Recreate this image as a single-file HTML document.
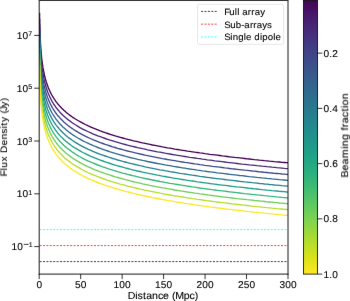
<!DOCTYPE html>
<html><head><meta charset="utf-8"><style>
html,body{margin:0;padding:0;background:#fff;width:350px;height:301px;overflow:hidden;}
svg{display:block;font-family:"Liberation Sans", sans-serif;will-change:transform;text-rendering:geometricPrecision;}
text{stroke:#000;stroke-width:0.1px;}
</style></head><body>
<svg width="350" height="301" viewBox="0 0 350 301" font-family='"Liberation Sans", sans-serif' fill="#000">
<defs>
<filter id="sb" x="0" y="0" width="350" height="301" filterUnits="userSpaceOnUse" color-interpolation-filters="sRGB"><feConvolveMatrix order="3" kernelMatrix="0.005 0.035 0.005 0.035 0.84 0.035 0.005 0.035 0.005" divisor="1" edgeMode="duplicate"/></filter>
<linearGradient id="vir" gradientUnits="userSpaceOnUse" x1="0" y1="-2.1" x2="0" y2="274.1"><stop offset="0.0000" stop-color="#440154"/><stop offset="0.0625" stop-color="#48186a"/><stop offset="0.1250" stop-color="#472d7b"/><stop offset="0.1875" stop-color="#424086"/><stop offset="0.2500" stop-color="#3b528b"/><stop offset="0.3125" stop-color="#33638d"/><stop offset="0.3750" stop-color="#2c728e"/><stop offset="0.4375" stop-color="#26828e"/><stop offset="0.5000" stop-color="#21918c"/><stop offset="0.5625" stop-color="#1fa088"/><stop offset="0.6250" stop-color="#28ae80"/><stop offset="0.6875" stop-color="#3fbc73"/><stop offset="0.7500" stop-color="#5ec962"/><stop offset="0.8125" stop-color="#84d44b"/><stop offset="0.8750" stop-color="#addc30"/><stop offset="0.9375" stop-color="#d8e219"/><stop offset="1.0000" stop-color="#fde725"/></linearGradient>
<clipPath id="axclip"><rect x="39.2" y="0.4" width="248.8" height="273.70000000000005"/></clipPath>
</defs>
<g filter="url(#sb)">
<rect width="350" height="301" fill="#fff"/>
<g clip-path="url(#axclip)">
<line x1="39.2" y1="229.6" x2="288.0" y2="229.6" stroke="#00ffff" stroke-width="0.75" stroke-dasharray="2.0 1.4" stroke-dashoffset="-0.4"/>
<line x1="39.2" y1="245.6" x2="288.0" y2="245.6" stroke="#ff0000" stroke-width="0.75" stroke-dasharray="2.0 1.4" stroke-dashoffset="-0.4"/>
<line x1="39.2" y1="261.6" x2="288.0" y2="261.6" stroke="#000000" stroke-width="0.75" stroke-dasharray="2.0 1.4" stroke-dashoffset="-0.4"/>
<path d="M39.5,12.9 L39.6,13.8 L39.6,14.7 L39.6,15.6 L39.6,16.5 L39.6,17.4 L39.6,18.3 L39.7,19.2 L39.7,20.1 L39.7,21.0 L39.7,21.9 L39.7,22.7 L39.7,23.6 L39.8,24.5 L39.8,25.4 L39.8,26.3 L39.8,27.2 L39.9,28.1 L39.9,29.0 L39.9,29.9 L40.0,30.8 L40.0,31.7 L40.0,32.6 L40.0,33.5 L40.1,34.3 L40.1,35.2 L40.1,36.1 L40.2,37.0 L40.2,37.9 L40.3,38.8 L40.3,39.7 L40.4,40.6 L40.4,41.5 L40.4,42.4 L40.5,43.3 L40.6,44.2 L40.6,45.1 L40.7,45.9 L40.7,46.8 L40.8,47.7 L40.8,48.6 L40.9,49.5 L41.0,50.4 L41.0,51.3 L41.1,52.2 L41.2,53.1 L41.3,54.0 L41.4,54.9 L41.5,55.8 L41.5,56.7 L41.6,57.6 L41.7,58.4 L41.8,59.3 L41.9,60.2 L42.0,61.1 L42.2,62.0 L42.3,62.9 L42.4,63.8 L42.5,64.7 L42.7,65.6 L42.8,66.5 L42.9,67.4 L43.1,68.3 L43.3,69.2 L43.4,70.0 L43.6,70.9 L43.8,71.8 L43.9,72.7 L44.1,73.6 L44.3,74.5 L44.5,75.4 L44.7,76.3 L45.0,77.2 L45.2,78.1 L45.4,79.0 L45.7,79.9 L45.9,80.8 L46.2,81.7 L46.5,82.5 L46.8,83.4 L47.1,84.3 L47.4,85.2 L47.7,86.1 L48.1,87.0 L48.4,87.9 L48.8,88.8 L49.2,89.7 L49.6,90.6 L50.0,91.5 L50.4,92.4 L50.9,93.3 L51.4,94.1 L51.8,95.0 L52.3,95.9 L52.9,96.8 L53.4,97.7 L54.0,98.6 L54.6,99.5 L55.2,100.4 L55.8,101.3 L56.5,102.2 L57.2,103.1 L57.9,104.0 L58.7,104.9 L59.4,105.7 L60.2,106.6 L61.1,107.5 L62.0,108.4 L62.9,109.3 L63.8,110.2 L64.8,111.1 L65.8,112.0 L66.9,112.9 L68.0,113.8 L69.2,114.7 L70.4,115.6 L71.6,116.5 L72.9,117.4 L75.4,119.0 L77.9,120.5 L80.4,121.9 L82.8,123.2 L85.3,124.5 L87.8,125.7 L90.3,126.8 L92.8,127.9 L95.3,128.9 L97.8,129.9 L100.3,130.9 L102.8,131.8 L105.2,132.7 L107.7,133.5 L110.2,134.3 L112.7,135.1 L115.2,135.9 L117.7,136.6 L120.2,137.3 L122.7,138.0 L125.1,138.7 L127.6,139.3 L130.1,139.9 L132.6,140.6 L135.1,141.2 L137.6,141.7 L140.1,142.3 L142.6,142.9 L145.0,143.4 L147.5,143.9 L150.0,144.4 L152.5,145.0 L155.0,145.4 L157.5,145.9 L160.0,146.4 L162.5,146.9 L165.0,147.3 L167.4,147.8 L169.9,148.2 L172.4,148.6 L174.9,149.1 L177.4,149.5 L179.9,149.9 L182.4,150.3 L184.9,150.7 L187.3,151.1 L189.8,151.4 L192.3,151.8 L194.8,152.2 L197.3,152.5 L199.8,152.9 L202.3,153.2 L204.8,153.6 L207.2,153.9 L209.7,154.3 L212.2,154.6 L214.7,154.9 L217.2,155.2 L219.7,155.5 L222.2,155.9 L224.7,156.2 L227.2,156.5 L229.6,156.8 L232.1,157.1 L234.6,157.4 L237.1,157.6 L239.6,157.9 L242.1,158.2 L244.6,158.5 L247.1,158.8 L249.5,159.0 L252.0,159.3 L254.5,159.6 L257.0,159.8 L259.5,160.1 L262.0,160.3 L264.5,160.6 L267.0,160.8 L269.4,161.1 L271.9,161.3 L274.4,161.6 L276.9,161.8 L279.4,162.0 L281.9,162.3 L284.4,162.5 L286.9,162.7 L288.0,162.8" stroke="#440154" stroke-width="1.35" fill="none"/>
<path d="M39.5,18.8 L39.6,19.7 L39.6,20.6 L39.6,21.4 L39.6,22.3 L39.6,23.2 L39.6,24.1 L39.7,25.0 L39.7,25.9 L39.7,26.8 L39.7,27.7 L39.7,28.6 L39.7,29.5 L39.8,30.4 L39.8,31.3 L39.8,32.2 L39.8,33.0 L39.9,33.9 L39.9,34.8 L39.9,35.7 L40.0,36.6 L40.0,37.5 L40.0,38.4 L40.0,39.3 L40.1,40.2 L40.1,41.1 L40.1,42.0 L40.2,42.9 L40.2,43.8 L40.3,44.7 L40.3,45.5 L40.4,46.4 L40.4,47.3 L40.4,48.2 L40.5,49.1 L40.6,50.0 L40.6,50.9 L40.7,51.8 L40.7,52.7 L40.8,53.6 L40.8,54.5 L40.9,55.4 L41.0,56.3 L41.0,57.1 L41.1,58.0 L41.2,58.9 L41.3,59.8 L41.4,60.7 L41.5,61.6 L41.5,62.5 L41.6,63.4 L41.7,64.3 L41.8,65.2 L41.9,66.1 L42.0,67.0 L42.2,67.9 L42.3,68.8 L42.4,69.6 L42.5,70.5 L42.7,71.4 L42.8,72.3 L42.9,73.2 L43.1,74.1 L43.3,75.0 L43.4,75.9 L43.6,76.8 L43.8,77.7 L43.9,78.6 L44.1,79.5 L44.3,80.4 L44.5,81.2 L44.7,82.1 L45.0,83.0 L45.2,83.9 L45.4,84.8 L45.7,85.7 L45.9,86.6 L46.2,87.5 L46.5,88.4 L46.8,89.3 L47.1,90.2 L47.4,91.1 L47.7,92.0 L48.1,92.9 L48.4,93.7 L48.8,94.6 L49.2,95.5 L49.6,96.4 L50.0,97.3 L50.4,98.2 L50.9,99.1 L51.4,100.0 L51.8,100.9 L52.3,101.8 L52.9,102.7 L53.4,103.6 L54.0,104.5 L54.6,105.3 L55.2,106.2 L55.8,107.1 L56.5,108.0 L57.2,108.9 L57.9,109.8 L58.7,110.7 L59.4,111.6 L60.2,112.5 L61.1,113.4 L62.0,114.3 L62.9,115.2 L63.8,116.1 L64.8,116.9 L65.8,117.8 L66.9,118.7 L68.0,119.6 L69.2,120.5 L70.4,121.4 L71.6,122.3 L72.9,123.2 L75.4,124.8 L77.9,126.3 L80.4,127.8 L82.8,129.1 L85.3,130.3 L87.8,131.5 L90.3,132.7 L92.8,133.8 L95.3,134.8 L97.8,135.8 L100.3,136.7 L102.8,137.6 L105.2,138.5 L107.7,139.4 L110.2,140.2 L112.7,140.9 L115.2,141.7 L117.7,142.4 L120.2,143.1 L122.7,143.8 L125.1,144.5 L127.6,145.2 L130.1,145.8 L132.6,146.4 L135.1,147.0 L137.6,147.6 L140.1,148.1 L142.6,148.7 L145.0,149.2 L147.5,149.8 L150.0,150.3 L152.5,150.8 L155.0,151.3 L157.5,151.8 L160.0,152.2 L162.5,152.7 L165.0,153.2 L167.4,153.6 L169.9,154.0 L172.4,154.5 L174.9,154.9 L177.4,155.3 L179.9,155.7 L182.4,156.1 L184.9,156.5 L187.3,156.9 L189.8,157.3 L192.3,157.6 L194.8,158.0 L197.3,158.4 L199.8,158.7 L202.3,159.1 L204.8,159.4 L207.2,159.8 L209.7,160.1 L212.2,160.4 L214.7,160.8 L217.2,161.1 L219.7,161.4 L222.2,161.7 L224.7,162.0 L227.2,162.3 L229.6,162.6 L232.1,162.9 L234.6,163.2 L237.1,163.5 L239.6,163.8 L242.1,164.1 L244.6,164.3 L247.1,164.6 L249.5,164.9 L252.0,165.1 L254.5,165.4 L257.0,165.7 L259.5,165.9 L262.0,166.2 L264.5,166.4 L267.0,166.7 L269.4,166.9 L271.9,167.2 L274.4,167.4 L276.9,167.7 L279.4,167.9 L281.9,168.1 L284.4,168.4 L286.9,168.6 L288.0,168.7" stroke="#482878" stroke-width="1.35" fill="none"/>
<path d="M39.5,24.6 L39.6,25.5 L39.6,26.4 L39.6,27.3 L39.6,28.2 L39.6,29.1 L39.6,30.0 L39.7,30.9 L39.7,31.8 L39.7,32.6 L39.7,33.5 L39.7,34.4 L39.7,35.3 L39.8,36.2 L39.8,37.1 L39.8,38.0 L39.8,38.9 L39.9,39.8 L39.9,40.7 L39.9,41.6 L40.0,42.5 L40.0,43.4 L40.0,44.2 L40.0,45.1 L40.1,46.0 L40.1,46.9 L40.1,47.8 L40.2,48.7 L40.2,49.6 L40.3,50.5 L40.3,51.4 L40.4,52.3 L40.4,53.2 L40.4,54.1 L40.5,55.0 L40.6,55.9 L40.6,56.7 L40.7,57.6 L40.7,58.5 L40.8,59.4 L40.8,60.3 L40.9,61.2 L41.0,62.1 L41.0,63.0 L41.1,63.9 L41.2,64.8 L41.3,65.7 L41.4,66.6 L41.5,67.5 L41.5,68.3 L41.6,69.2 L41.7,70.1 L41.8,71.0 L41.9,71.9 L42.0,72.8 L42.2,73.7 L42.3,74.6 L42.4,75.5 L42.5,76.4 L42.7,77.3 L42.8,78.2 L42.9,79.1 L43.1,80.0 L43.3,80.8 L43.4,81.7 L43.6,82.6 L43.8,83.5 L43.9,84.4 L44.1,85.3 L44.3,86.2 L44.5,87.1 L44.7,88.0 L45.0,88.9 L45.2,89.8 L45.4,90.7 L45.7,91.6 L45.9,92.4 L46.2,93.3 L46.5,94.2 L46.8,95.1 L47.1,96.0 L47.4,96.9 L47.7,97.8 L48.1,98.7 L48.4,99.6 L48.8,100.5 L49.2,101.4 L49.6,102.3 L50.0,103.2 L50.4,104.1 L50.9,104.9 L51.4,105.8 L51.8,106.7 L52.3,107.6 L52.9,108.5 L53.4,109.4 L54.0,110.3 L54.6,111.2 L55.2,112.1 L55.8,113.0 L56.5,113.9 L57.2,114.8 L57.9,115.7 L58.7,116.5 L59.4,117.4 L60.2,118.3 L61.1,119.2 L62.0,120.1 L62.9,121.0 L63.8,121.9 L64.8,122.8 L65.8,123.7 L66.9,124.6 L68.0,125.5 L69.2,126.4 L70.4,127.3 L71.6,128.1 L72.9,129.0 L75.4,130.7 L77.9,132.2 L80.4,133.6 L82.8,134.9 L85.3,136.2 L87.8,137.4 L90.3,138.5 L92.8,139.6 L95.3,140.6 L97.8,141.6 L100.3,142.6 L102.8,143.5 L105.2,144.4 L107.7,145.2 L110.2,146.0 L112.7,146.8 L115.2,147.5 L117.7,148.3 L120.2,149.0 L122.7,149.7 L125.1,150.3 L127.6,151.0 L130.1,151.6 L132.6,152.2 L135.1,152.8 L137.6,153.4 L140.1,154.0 L142.6,154.5 L145.0,155.1 L147.5,155.6 L150.0,156.1 L152.5,156.6 L155.0,157.1 L157.5,157.6 L160.0,158.1 L162.5,158.6 L165.0,159.0 L167.4,159.5 L169.9,159.9 L172.4,160.3 L174.9,160.7 L177.4,161.2 L179.9,161.6 L182.4,162.0 L184.9,162.4 L187.3,162.7 L189.8,163.1 L192.3,163.5 L194.8,163.9 L197.3,164.2 L199.8,164.6 L202.3,164.9 L204.8,165.3 L207.2,165.6 L209.7,165.9 L212.2,166.3 L214.7,166.6 L217.2,166.9 L219.7,167.2 L222.2,167.5 L224.7,167.9 L227.2,168.2 L229.6,168.5 L232.1,168.8 L234.6,169.0 L237.1,169.3 L239.6,169.6 L242.1,169.9 L244.6,170.2 L247.1,170.4 L249.5,170.7 L252.0,171.0 L254.5,171.2 L257.0,171.5 L259.5,171.8 L262.0,172.0 L264.5,172.3 L267.0,172.5 L269.4,172.8 L271.9,173.0 L274.4,173.3 L276.9,173.5 L279.4,173.7 L281.9,174.0 L284.4,174.2 L286.9,174.4 L288.0,174.5" stroke="#3e4989" stroke-width="1.35" fill="none"/>
<path d="M39.5,30.5 L39.6,31.4 L39.6,32.2 L39.6,33.1 L39.6,34.0 L39.6,34.9 L39.6,35.8 L39.7,36.7 L39.7,37.6 L39.7,38.5 L39.7,39.4 L39.7,40.3 L39.7,41.2 L39.8,42.1 L39.8,43.0 L39.8,43.8 L39.8,44.7 L39.9,45.6 L39.9,46.5 L39.9,47.4 L40.0,48.3 L40.0,49.2 L40.0,50.1 L40.0,51.0 L40.1,51.9 L40.1,52.8 L40.1,53.7 L40.2,54.6 L40.2,55.4 L40.3,56.3 L40.3,57.2 L40.4,58.1 L40.4,59.0 L40.4,59.9 L40.5,60.8 L40.6,61.7 L40.6,62.6 L40.7,63.5 L40.7,64.4 L40.8,65.3 L40.8,66.2 L40.9,67.1 L41.0,67.9 L41.0,68.8 L41.1,69.7 L41.2,70.6 L41.3,71.5 L41.4,72.4 L41.5,73.3 L41.5,74.2 L41.6,75.1 L41.7,76.0 L41.8,76.9 L41.9,77.8 L42.0,78.7 L42.2,79.5 L42.3,80.4 L42.4,81.3 L42.5,82.2 L42.7,83.1 L42.8,84.0 L42.9,84.9 L43.1,85.8 L43.3,86.7 L43.4,87.6 L43.6,88.5 L43.8,89.4 L43.9,90.3 L44.1,91.2 L44.3,92.0 L44.5,92.9 L44.7,93.8 L45.0,94.7 L45.2,95.6 L45.4,96.5 L45.7,97.4 L45.9,98.3 L46.2,99.2 L46.5,100.1 L46.8,101.0 L47.1,101.9 L47.4,102.8 L47.7,103.6 L48.1,104.5 L48.4,105.4 L48.8,106.3 L49.2,107.2 L49.6,108.1 L50.0,109.0 L50.4,109.9 L50.9,110.8 L51.4,111.7 L51.8,112.6 L52.3,113.5 L52.9,114.4 L53.4,115.2 L54.0,116.1 L54.6,117.0 L55.2,117.9 L55.8,118.8 L56.5,119.7 L57.2,120.6 L57.9,121.5 L58.7,122.4 L59.4,123.3 L60.2,124.2 L61.1,125.1 L62.0,126.0 L62.9,126.9 L63.8,127.7 L64.8,128.6 L65.8,129.5 L66.9,130.4 L68.0,131.3 L69.2,132.2 L70.4,133.1 L71.6,134.0 L72.9,134.9 L75.4,136.5 L77.9,138.0 L80.4,139.4 L82.8,140.8 L85.3,142.0 L87.8,143.2 L90.3,144.4 L92.8,145.4 L95.3,146.5 L97.8,147.5 L100.3,148.4 L102.8,149.3 L105.2,150.2 L107.7,151.0 L110.2,151.9 L112.7,152.6 L115.2,153.4 L117.7,154.1 L120.2,154.8 L122.7,155.5 L125.1,156.2 L127.6,156.8 L130.1,157.5 L132.6,158.1 L135.1,158.7 L137.6,159.3 L140.1,159.8 L142.6,160.4 L145.0,160.9 L147.5,161.5 L150.0,162.0 L152.5,162.5 L155.0,163.0 L157.5,163.5 L160.0,163.9 L162.5,164.4 L165.0,164.9 L167.4,165.3 L169.9,165.7 L172.4,166.2 L174.9,166.6 L177.4,167.0 L179.9,167.4 L182.4,167.8 L184.9,168.2 L187.3,168.6 L189.8,169.0 L192.3,169.3 L194.8,169.7 L197.3,170.1 L199.8,170.4 L202.3,170.8 L204.8,171.1 L207.2,171.5 L209.7,171.8 L212.2,172.1 L214.7,172.4 L217.2,172.8 L219.7,173.1 L222.2,173.4 L224.7,173.7 L227.2,174.0 L229.6,174.3 L232.1,174.6 L234.6,174.9 L237.1,175.2 L239.6,175.5 L242.1,175.7 L244.6,176.0 L247.1,176.3 L249.5,176.6 L252.0,176.8 L254.5,177.1 L257.0,177.4 L259.5,177.6 L262.0,177.9 L264.5,178.1 L267.0,178.4 L269.4,178.6 L271.9,178.9 L274.4,179.1 L276.9,179.3 L279.4,179.6 L281.9,179.8 L284.4,180.0 L286.9,180.3 L288.0,180.4" stroke="#31688e" stroke-width="1.35" fill="none"/>
<path d="M39.5,36.3 L39.6,37.2 L39.6,38.1 L39.6,39.0 L39.6,39.9 L39.6,40.8 L39.6,41.7 L39.7,42.6 L39.7,43.4 L39.7,44.3 L39.7,45.2 L39.7,46.1 L39.7,47.0 L39.8,47.9 L39.8,48.8 L39.8,49.7 L39.8,50.6 L39.9,51.5 L39.9,52.4 L39.9,53.3 L40.0,54.2 L40.0,55.0 L40.0,55.9 L40.0,56.8 L40.1,57.7 L40.1,58.6 L40.1,59.5 L40.2,60.4 L40.2,61.3 L40.3,62.2 L40.3,63.1 L40.4,64.0 L40.4,64.9 L40.4,65.8 L40.5,66.6 L40.6,67.5 L40.6,68.4 L40.7,69.3 L40.7,70.2 L40.8,71.1 L40.8,72.0 L40.9,72.9 L41.0,73.8 L41.0,74.7 L41.1,75.6 L41.2,76.5 L41.3,77.4 L41.4,78.3 L41.5,79.1 L41.5,80.0 L41.6,80.9 L41.7,81.8 L41.8,82.7 L41.9,83.6 L42.0,84.5 L42.2,85.4 L42.3,86.3 L42.4,87.2 L42.5,88.1 L42.7,89.0 L42.8,89.9 L42.9,90.7 L43.1,91.6 L43.3,92.5 L43.4,93.4 L43.6,94.3 L43.8,95.2 L43.9,96.1 L44.1,97.0 L44.3,97.9 L44.5,98.8 L44.7,99.7 L45.0,100.6 L45.2,101.5 L45.4,102.4 L45.7,103.2 L45.9,104.1 L46.2,105.0 L46.5,105.9 L46.8,106.8 L47.1,107.7 L47.4,108.6 L47.7,109.5 L48.1,110.4 L48.4,111.3 L48.8,112.2 L49.2,113.1 L49.6,114.0 L50.0,114.8 L50.4,115.7 L50.9,116.6 L51.4,117.5 L51.8,118.4 L52.3,119.3 L52.9,120.2 L53.4,121.1 L54.0,122.0 L54.6,122.9 L55.2,123.8 L55.8,124.7 L56.5,125.6 L57.2,126.4 L57.9,127.3 L58.7,128.2 L59.4,129.1 L60.2,130.0 L61.1,130.9 L62.0,131.8 L62.9,132.7 L63.8,133.6 L64.8,134.5 L65.8,135.4 L66.9,136.3 L68.0,137.2 L69.2,138.1 L70.4,138.9 L71.6,139.8 L72.9,140.7 L75.4,142.4 L77.9,143.9 L80.4,145.3 L82.8,146.6 L85.3,147.9 L87.8,149.1 L90.3,150.2 L92.8,151.3 L95.3,152.3 L97.8,153.3 L100.3,154.3 L102.8,155.2 L105.2,156.0 L107.7,156.9 L110.2,157.7 L112.7,158.5 L115.2,159.2 L117.7,160.0 L120.2,160.7 L122.7,161.4 L125.1,162.0 L127.6,162.7 L130.1,163.3 L132.6,163.9 L135.1,164.5 L137.6,165.1 L140.1,165.7 L142.6,166.2 L145.0,166.8 L147.5,167.3 L150.0,167.8 L152.5,168.3 L155.0,168.8 L157.5,169.3 L160.0,169.8 L162.5,170.2 L165.0,170.7 L167.4,171.1 L169.9,171.6 L172.4,172.0 L174.9,172.4 L177.4,172.8 L179.9,173.3 L182.4,173.7 L184.9,174.0 L187.3,174.4 L189.8,174.8 L192.3,175.2 L194.8,175.5 L197.3,175.9 L199.8,176.3 L202.3,176.6 L204.8,177.0 L207.2,177.3 L209.7,177.6 L212.2,178.0 L214.7,178.3 L217.2,178.6 L219.7,178.9 L222.2,179.2 L224.7,179.5 L227.2,179.8 L229.6,180.1 L232.1,180.4 L234.6,180.7 L237.1,181.0 L239.6,181.3 L242.1,181.6 L244.6,181.9 L247.1,182.1 L249.5,182.4 L252.0,182.7 L254.5,182.9 L257.0,183.2 L259.5,183.5 L262.0,183.7 L264.5,184.0 L267.0,184.2 L269.4,184.5 L271.9,184.7 L274.4,185.0 L276.9,185.2 L279.4,185.4 L281.9,185.7 L284.4,185.9 L286.9,186.1 L288.0,186.2" stroke="#26828e" stroke-width="1.35" fill="none"/>
<path d="M39.5,42.1 L39.6,43.0 L39.6,43.9 L39.6,44.8 L39.6,45.7 L39.6,46.6 L39.6,47.5 L39.7,48.4 L39.7,49.3 L39.7,50.2 L39.7,51.1 L39.7,52.0 L39.7,52.9 L39.8,53.7 L39.8,54.6 L39.8,55.5 L39.8,56.4 L39.9,57.3 L39.9,58.2 L39.9,59.1 L40.0,60.0 L40.0,60.9 L40.0,61.8 L40.0,62.7 L40.1,63.6 L40.1,64.5 L40.1,65.4 L40.2,66.2 L40.2,67.1 L40.3,68.0 L40.3,68.9 L40.4,69.8 L40.4,70.7 L40.4,71.6 L40.5,72.5 L40.6,73.4 L40.6,74.3 L40.7,75.2 L40.7,76.1 L40.8,77.0 L40.8,77.8 L40.9,78.7 L41.0,79.6 L41.0,80.5 L41.1,81.4 L41.2,82.3 L41.3,83.2 L41.4,84.1 L41.5,85.0 L41.5,85.9 L41.6,86.8 L41.7,87.7 L41.8,88.6 L41.9,89.5 L42.0,90.3 L42.2,91.2 L42.3,92.1 L42.4,93.0 L42.5,93.9 L42.7,94.8 L42.8,95.7 L42.9,96.6 L43.1,97.5 L43.3,98.4 L43.4,99.3 L43.6,100.2 L43.8,101.1 L43.9,101.9 L44.1,102.8 L44.3,103.7 L44.5,104.6 L44.7,105.5 L45.0,106.4 L45.2,107.3 L45.4,108.2 L45.7,109.1 L45.9,110.0 L46.2,110.9 L46.5,111.8 L46.8,112.7 L47.1,113.6 L47.4,114.4 L47.7,115.3 L48.1,116.2 L48.4,117.1 L48.8,118.0 L49.2,118.9 L49.6,119.8 L50.0,120.7 L50.4,121.6 L50.9,122.5 L51.4,123.4 L51.8,124.3 L52.3,125.2 L52.9,126.0 L53.4,126.9 L54.0,127.8 L54.6,128.7 L55.2,129.6 L55.8,130.5 L56.5,131.4 L57.2,132.3 L57.9,133.2 L58.7,134.1 L59.4,135.0 L60.2,135.9 L61.1,136.8 L62.0,137.6 L62.9,138.5 L63.8,139.4 L64.8,140.3 L65.8,141.2 L66.9,142.1 L68.0,143.0 L69.2,143.9 L70.4,144.8 L71.6,145.7 L72.9,146.6 L75.4,148.2 L77.9,149.7 L80.4,151.1 L82.8,152.5 L85.3,153.7 L87.8,154.9 L90.3,156.1 L92.8,157.1 L95.3,158.2 L97.8,159.2 L100.3,160.1 L102.8,161.0 L105.2,161.9 L107.7,162.7 L110.2,163.5 L112.7,164.3 L115.2,165.1 L117.7,165.8 L120.2,166.5 L122.7,167.2 L125.1,167.9 L127.6,168.5 L130.1,169.2 L132.6,169.8 L135.1,170.4 L137.6,171.0 L140.1,171.5 L142.6,172.1 L145.0,172.6 L147.5,173.2 L150.0,173.7 L152.5,174.2 L155.0,174.7 L157.5,175.2 L160.0,175.6 L162.5,176.1 L165.0,176.5 L167.4,177.0 L169.9,177.4 L172.4,177.9 L174.9,178.3 L177.4,178.7 L179.9,179.1 L182.4,179.5 L184.9,179.9 L187.3,180.3 L189.8,180.7 L192.3,181.0 L194.8,181.4 L197.3,181.8 L199.8,182.1 L202.3,182.5 L204.8,182.8 L207.2,183.1 L209.7,183.5 L212.2,183.8 L214.7,184.1 L217.2,184.5 L219.7,184.8 L222.2,185.1 L224.7,185.4 L227.2,185.7 L229.6,186.0 L232.1,186.3 L234.6,186.6 L237.1,186.9 L239.6,187.1 L242.1,187.4 L244.6,187.7 L247.1,188.0 L249.5,188.3 L252.0,188.5 L254.5,188.8 L257.0,189.0 L259.5,189.3 L262.0,189.6 L264.5,189.8 L267.0,190.1 L269.4,190.3 L271.9,190.6 L274.4,190.8 L276.9,191.0 L279.4,191.3 L281.9,191.5 L284.4,191.7 L286.9,192.0 L288.0,192.1" stroke="#1f9e89" stroke-width="1.35" fill="none"/>
<path d="M39.5,48.0 L39.6,48.9 L39.6,49.8 L39.6,50.7 L39.6,51.6 L39.6,52.5 L39.6,53.3 L39.7,54.2 L39.7,55.1 L39.7,56.0 L39.7,56.9 L39.7,57.8 L39.7,58.7 L39.8,59.6 L39.8,60.5 L39.8,61.4 L39.8,62.3 L39.9,63.2 L39.9,64.1 L39.9,64.9 L40.0,65.8 L40.0,66.7 L40.0,67.6 L40.0,68.5 L40.1,69.4 L40.1,70.3 L40.1,71.2 L40.2,72.1 L40.2,73.0 L40.3,73.9 L40.3,74.8 L40.4,75.7 L40.4,76.6 L40.4,77.4 L40.5,78.3 L40.6,79.2 L40.6,80.1 L40.7,81.0 L40.7,81.9 L40.8,82.8 L40.8,83.7 L40.9,84.6 L41.0,85.5 L41.0,86.4 L41.1,87.3 L41.2,88.2 L41.3,89.0 L41.4,89.9 L41.5,90.8 L41.5,91.7 L41.6,92.6 L41.7,93.5 L41.8,94.4 L41.9,95.3 L42.0,96.2 L42.2,97.1 L42.3,98.0 L42.4,98.9 L42.5,99.8 L42.7,100.7 L42.8,101.5 L42.9,102.4 L43.1,103.3 L43.3,104.2 L43.4,105.1 L43.6,106.0 L43.8,106.9 L43.9,107.8 L44.1,108.7 L44.3,109.6 L44.5,110.5 L44.7,111.4 L45.0,112.3 L45.2,113.1 L45.4,114.0 L45.7,114.9 L45.9,115.8 L46.2,116.7 L46.5,117.6 L46.8,118.5 L47.1,119.4 L47.4,120.3 L47.7,121.2 L48.1,122.1 L48.4,123.0 L48.8,123.9 L49.2,124.8 L49.6,125.6 L50.0,126.5 L50.4,127.4 L50.9,128.3 L51.4,129.2 L51.8,130.1 L52.3,131.0 L52.9,131.9 L53.4,132.8 L54.0,133.7 L54.6,134.6 L55.2,135.5 L55.8,136.4 L56.5,137.2 L57.2,138.1 L57.9,139.0 L58.7,139.9 L59.4,140.8 L60.2,141.7 L61.1,142.6 L62.0,143.5 L62.9,144.4 L63.8,145.3 L64.8,146.2 L65.8,147.1 L66.9,148.0 L68.0,148.8 L69.2,149.7 L70.4,150.6 L71.6,151.5 L72.9,152.4 L75.4,154.0 L77.9,155.6 L80.4,157.0 L82.8,158.3 L85.3,159.6 L87.8,160.8 L90.3,161.9 L92.8,163.0 L95.3,164.0 L97.8,165.0 L100.3,165.9 L102.8,166.9 L105.2,167.7 L107.7,168.6 L110.2,169.4 L112.7,170.2 L115.2,170.9 L117.7,171.7 L120.2,172.4 L122.7,173.1 L125.1,173.7 L127.6,174.4 L130.1,175.0 L132.6,175.6 L135.1,176.2 L137.6,176.8 L140.1,177.4 L142.6,177.9 L145.0,178.5 L147.5,179.0 L150.0,179.5 L152.5,180.0 L155.0,180.5 L157.5,181.0 L160.0,181.5 L162.5,181.9 L165.0,182.4 L167.4,182.8 L169.9,183.3 L172.4,183.7 L174.9,184.1 L177.4,184.5 L179.9,184.9 L182.4,185.3 L184.9,185.7 L187.3,186.1 L189.8,186.5 L192.3,186.9 L194.8,187.2 L197.3,187.6 L199.8,188.0 L202.3,188.3 L204.8,188.6 L207.2,189.0 L209.7,189.3 L212.2,189.7 L214.7,190.0 L217.2,190.3 L219.7,190.6 L222.2,190.9 L224.7,191.2 L227.2,191.5 L229.6,191.8 L232.1,192.1 L234.6,192.4 L237.1,192.7 L239.6,193.0 L242.1,193.3 L244.6,193.6 L247.1,193.8 L249.5,194.1 L252.0,194.4 L254.5,194.6 L257.0,194.9 L259.5,195.1 L262.0,195.4 L264.5,195.7 L267.0,195.9 L269.4,196.2 L271.9,196.4 L274.4,196.6 L276.9,196.9 L279.4,197.1 L281.9,197.4 L284.4,197.6 L286.9,197.8 L288.0,197.9" stroke="#35b779" stroke-width="1.35" fill="none"/>
<path d="M39.5,53.8 L39.6,54.7 L39.6,55.6 L39.6,56.5 L39.6,57.4 L39.6,58.3 L39.6,59.2 L39.7,60.1 L39.7,61.0 L39.7,61.9 L39.7,62.8 L39.7,63.7 L39.7,64.5 L39.8,65.4 L39.8,66.3 L39.8,67.2 L39.8,68.1 L39.9,69.0 L39.9,69.9 L39.9,70.8 L40.0,71.7 L40.0,72.6 L40.0,73.5 L40.0,74.4 L40.1,75.3 L40.1,76.1 L40.1,77.0 L40.2,77.9 L40.2,78.8 L40.3,79.7 L40.3,80.6 L40.4,81.5 L40.4,82.4 L40.4,83.3 L40.5,84.2 L40.6,85.1 L40.6,86.0 L40.7,86.9 L40.7,87.8 L40.8,88.6 L40.8,89.5 L40.9,90.4 L41.0,91.3 L41.0,92.2 L41.1,93.1 L41.2,94.0 L41.3,94.9 L41.4,95.8 L41.5,96.7 L41.5,97.6 L41.6,98.5 L41.7,99.4 L41.8,100.2 L41.9,101.1 L42.0,102.0 L42.2,102.9 L42.3,103.8 L42.4,104.7 L42.5,105.6 L42.7,106.5 L42.8,107.4 L42.9,108.3 L43.1,109.2 L43.3,110.1 L43.4,111.0 L43.6,111.9 L43.8,112.7 L43.9,113.6 L44.1,114.5 L44.3,115.4 L44.5,116.3 L44.7,117.2 L45.0,118.1 L45.2,119.0 L45.4,119.9 L45.7,120.8 L45.9,121.7 L46.2,122.6 L46.5,123.5 L46.8,124.3 L47.1,125.2 L47.4,126.1 L47.7,127.0 L48.1,127.9 L48.4,128.8 L48.8,129.7 L49.2,130.6 L49.6,131.5 L50.0,132.4 L50.4,133.3 L50.9,134.2 L51.4,135.1 L51.8,136.0 L52.3,136.8 L52.9,137.7 L53.4,138.6 L54.0,139.5 L54.6,140.4 L55.2,141.3 L55.8,142.2 L56.5,143.1 L57.2,144.0 L57.9,144.9 L58.7,145.8 L59.4,146.7 L60.2,147.6 L61.1,148.4 L62.0,149.3 L62.9,150.2 L63.8,151.1 L64.8,152.0 L65.8,152.9 L66.9,153.8 L68.0,154.7 L69.2,155.6 L70.4,156.5 L71.6,157.4 L72.9,158.3 L75.4,159.9 L77.9,161.4 L80.4,162.8 L82.8,164.2 L85.3,165.4 L87.8,166.6 L90.3,167.7 L92.8,168.8 L95.3,169.9 L97.8,170.8 L100.3,171.8 L102.8,172.7 L105.2,173.6 L107.7,174.4 L110.2,175.2 L112.7,176.0 L115.2,176.8 L117.7,177.5 L120.2,178.2 L122.7,178.9 L125.1,179.6 L127.6,180.2 L130.1,180.9 L132.6,181.5 L135.1,182.1 L137.6,182.6 L140.1,183.2 L142.6,183.8 L145.0,184.3 L147.5,184.8 L150.0,185.4 L152.5,185.9 L155.0,186.4 L157.5,186.8 L160.0,187.3 L162.5,187.8 L165.0,188.2 L167.4,188.7 L169.9,189.1 L172.4,189.5 L174.9,190.0 L177.4,190.4 L179.9,190.8 L182.4,191.2 L184.9,191.6 L187.3,192.0 L189.8,192.3 L192.3,192.7 L194.8,193.1 L197.3,193.4 L199.8,193.8 L202.3,194.1 L204.8,194.5 L207.2,194.8 L209.7,195.2 L212.2,195.5 L214.7,195.8 L217.2,196.1 L219.7,196.5 L222.2,196.8 L224.7,197.1 L227.2,197.4 L229.6,197.7 L232.1,198.0 L234.6,198.3 L237.1,198.6 L239.6,198.8 L242.1,199.1 L244.6,199.4 L247.1,199.7 L249.5,199.9 L252.0,200.2 L254.5,200.5 L257.0,200.7 L259.5,201.0 L262.0,201.2 L264.5,201.5 L267.0,201.8 L269.4,202.0 L271.9,202.2 L274.4,202.5 L276.9,202.7 L279.4,203.0 L281.9,203.2 L284.4,203.4 L286.9,203.7 L288.0,203.8" stroke="#6ece58" stroke-width="1.35" fill="none"/>
<path d="M39.5,59.7 L39.6,60.6 L39.6,61.5 L39.6,62.4 L39.6,63.3 L39.6,64.1 L39.6,65.0 L39.7,65.9 L39.7,66.8 L39.7,67.7 L39.7,68.6 L39.7,69.5 L39.7,70.4 L39.8,71.3 L39.8,72.2 L39.8,73.1 L39.8,74.0 L39.9,74.9 L39.9,75.7 L39.9,76.6 L40.0,77.5 L40.0,78.4 L40.0,79.3 L40.0,80.2 L40.1,81.1 L40.1,82.0 L40.1,82.9 L40.2,83.8 L40.2,84.7 L40.3,85.6 L40.3,86.5 L40.4,87.3 L40.4,88.2 L40.4,89.1 L40.5,90.0 L40.6,90.9 L40.6,91.8 L40.7,92.7 L40.7,93.6 L40.8,94.5 L40.8,95.4 L40.9,96.3 L41.0,97.2 L41.0,98.1 L41.1,99.0 L41.2,99.8 L41.3,100.7 L41.4,101.6 L41.5,102.5 L41.5,103.4 L41.6,104.3 L41.7,105.2 L41.8,106.1 L41.9,107.0 L42.0,107.9 L42.2,108.8 L42.3,109.7 L42.4,110.6 L42.5,111.4 L42.7,112.3 L42.8,113.2 L42.9,114.1 L43.1,115.0 L43.3,115.9 L43.4,116.8 L43.6,117.7 L43.8,118.6 L43.9,119.5 L44.1,120.4 L44.3,121.3 L44.5,122.2 L44.7,123.1 L45.0,123.9 L45.2,124.8 L45.4,125.7 L45.7,126.6 L45.9,127.5 L46.2,128.4 L46.5,129.3 L46.8,130.2 L47.1,131.1 L47.4,132.0 L47.7,132.9 L48.1,133.8 L48.4,134.7 L48.8,135.5 L49.2,136.4 L49.6,137.3 L50.0,138.2 L50.4,139.1 L50.9,140.0 L51.4,140.9 L51.8,141.8 L52.3,142.7 L52.9,143.6 L53.4,144.5 L54.0,145.4 L54.6,146.3 L55.2,147.1 L55.8,148.0 L56.5,148.9 L57.2,149.8 L57.9,150.7 L58.7,151.6 L59.4,152.5 L60.2,153.4 L61.1,154.3 L62.0,155.2 L62.9,156.1 L63.8,157.0 L64.8,157.9 L65.8,158.8 L66.9,159.6 L68.0,160.5 L69.2,161.4 L70.4,162.3 L71.6,163.2 L72.9,164.1 L75.4,165.7 L77.9,167.2 L80.4,168.7 L82.8,170.0 L85.3,171.3 L87.8,172.5 L90.3,173.6 L92.8,174.7 L95.3,175.7 L97.8,176.7 L100.3,177.6 L102.8,178.5 L105.2,179.4 L107.7,180.3 L110.2,181.1 L112.7,181.9 L115.2,182.6 L117.7,183.3 L120.2,184.1 L122.7,184.7 L125.1,185.4 L127.6,186.1 L130.1,186.7 L132.6,187.3 L135.1,187.9 L137.6,188.5 L140.1,189.1 L142.6,189.6 L145.0,190.2 L147.5,190.7 L150.0,191.2 L152.5,191.7 L155.0,192.2 L157.5,192.7 L160.0,193.2 L162.5,193.6 L165.0,194.1 L167.4,194.5 L169.9,195.0 L172.4,195.4 L174.9,195.8 L177.4,196.2 L179.9,196.6 L182.4,197.0 L184.9,197.4 L187.3,197.8 L189.8,198.2 L192.3,198.6 L194.8,198.9 L197.3,199.3 L199.8,199.6 L202.3,200.0 L204.8,200.3 L207.2,200.7 L209.7,201.0 L212.2,201.3 L214.7,201.7 L217.2,202.0 L219.7,202.3 L222.2,202.6 L224.7,202.9 L227.2,203.2 L229.6,203.5 L232.1,203.8 L234.6,204.1 L237.1,204.4 L239.6,204.7 L242.1,205.0 L244.6,205.2 L247.1,205.5 L249.5,205.8 L252.0,206.1 L254.5,206.3 L257.0,206.6 L259.5,206.8 L262.0,207.1 L264.5,207.3 L267.0,207.6 L269.4,207.8 L271.9,208.1 L274.4,208.3 L276.9,208.6 L279.4,208.8 L281.9,209.0 L284.4,209.3 L286.9,209.5 L288.0,209.6" stroke="#b5de2b" stroke-width="1.35" fill="none"/>
<path d="M39.5,65.5 L39.6,66.4 L39.6,67.3 L39.6,68.2 L39.6,69.1 L39.6,70.0 L39.6,70.9 L39.7,71.8 L39.7,72.7 L39.7,73.6 L39.7,74.5 L39.7,75.3 L39.7,76.2 L39.8,77.1 L39.8,78.0 L39.8,78.9 L39.8,79.8 L39.9,80.7 L39.9,81.6 L39.9,82.5 L40.0,83.4 L40.0,84.3 L40.0,85.2 L40.0,86.1 L40.1,86.9 L40.1,87.8 L40.1,88.7 L40.2,89.6 L40.2,90.5 L40.3,91.4 L40.3,92.3 L40.4,93.2 L40.4,94.1 L40.4,95.0 L40.5,95.9 L40.6,96.8 L40.6,97.7 L40.7,98.5 L40.7,99.4 L40.8,100.3 L40.8,101.2 L40.9,102.1 L41.0,103.0 L41.0,103.9 L41.1,104.8 L41.2,105.7 L41.3,106.6 L41.4,107.5 L41.5,108.4 L41.5,109.3 L41.6,110.2 L41.7,111.0 L41.8,111.9 L41.9,112.8 L42.0,113.7 L42.2,114.6 L42.3,115.5 L42.4,116.4 L42.5,117.3 L42.7,118.2 L42.8,119.1 L42.9,120.0 L43.1,120.9 L43.3,121.8 L43.4,122.6 L43.6,123.5 L43.8,124.4 L43.9,125.3 L44.1,126.2 L44.3,127.1 L44.5,128.0 L44.7,128.9 L45.0,129.8 L45.2,130.7 L45.4,131.6 L45.7,132.5 L45.9,133.4 L46.2,134.3 L46.5,135.1 L46.8,136.0 L47.1,136.9 L47.4,137.8 L47.7,138.7 L48.1,139.6 L48.4,140.5 L48.8,141.4 L49.2,142.3 L49.6,143.2 L50.0,144.1 L50.4,145.0 L50.9,145.9 L51.4,146.7 L51.8,147.6 L52.3,148.5 L52.9,149.4 L53.4,150.3 L54.0,151.2 L54.6,152.1 L55.2,153.0 L55.8,153.9 L56.5,154.8 L57.2,155.7 L57.9,156.6 L58.7,157.5 L59.4,158.3 L60.2,159.2 L61.1,160.1 L62.0,161.0 L62.9,161.9 L63.8,162.8 L64.8,163.7 L65.8,164.6 L66.9,165.5 L68.0,166.4 L69.2,167.3 L70.4,168.2 L71.6,169.1 L72.9,170.0 L75.4,171.6 L77.9,173.1 L80.4,174.5 L82.8,175.8 L85.3,177.1 L87.8,178.3 L90.3,179.4 L92.8,180.5 L95.3,181.5 L97.8,182.5 L100.3,183.5 L102.8,184.4 L105.2,185.3 L107.7,186.1 L110.2,186.9 L112.7,187.7 L115.2,188.5 L117.7,189.2 L120.2,189.9 L122.7,190.6 L125.1,191.3 L127.6,191.9 L130.1,192.5 L132.6,193.2 L135.1,193.8 L137.6,194.3 L140.1,194.9 L142.6,195.5 L145.0,196.0 L147.5,196.5 L150.0,197.0 L152.5,197.6 L155.0,198.0 L157.5,198.5 L160.0,199.0 L162.5,199.5 L165.0,199.9 L167.4,200.4 L169.9,200.8 L172.4,201.2 L174.9,201.7 L177.4,202.1 L179.9,202.5 L182.4,202.9 L184.9,203.3 L187.3,203.7 L189.8,204.0 L192.3,204.4 L194.8,204.8 L197.3,205.1 L199.8,205.5 L202.3,205.8 L204.8,206.2 L207.2,206.5 L209.7,206.9 L212.2,207.2 L214.7,207.5 L217.2,207.8 L219.7,208.1 L222.2,208.5 L224.7,208.8 L227.2,209.1 L229.6,209.4 L232.1,209.7 L234.6,210.0 L237.1,210.2 L239.6,210.5 L242.1,210.8 L244.6,211.1 L247.1,211.4 L249.5,211.6 L252.0,211.9 L254.5,212.2 L257.0,212.4 L259.5,212.7 L262.0,212.9 L264.5,213.2 L267.0,213.4 L269.4,213.7 L271.9,213.9 L274.4,214.2 L276.9,214.4 L279.4,214.6 L281.9,214.9 L284.4,215.1 L286.9,215.3 L288.0,215.4" stroke="#fde725" stroke-width="1.35" fill="none"/>
</g>
<line x1="39.2" y1="0.4" x2="39.2" y2="274.55" stroke="#000" stroke-width="0.9"/>
<line x1="288.0" y1="0.4" x2="288.0" y2="274.55" stroke="#000" stroke-width="0.9"/>
<line x1="38.75" y1="274.1" x2="288.45" y2="274.1" stroke="#000" stroke-width="0.9"/>
<line x1="38.75" y1="0.55" x2="288.45" y2="0.55" stroke="#333" stroke-width="1.1"/>
<line x1="34.2" y1="35.40" x2="39.2" y2="35.40" stroke="#000" stroke-width="0.8"/>
<text transform="translate(28.30,39.00) scale(1.025,1)" font-size="9.9" x="-11.23 -5.58">10</text>
<text transform="translate(28.20,36.10)" font-size="7.0">7</text>
<line x1="34.2" y1="88.20" x2="39.2" y2="88.20" stroke="#000" stroke-width="0.8"/>
<text transform="translate(28.30,91.80) scale(1.025,1)" font-size="9.9" x="-11.23 -5.58">10</text>
<text transform="translate(28.20,88.90)" font-size="7.0">5</text>
<line x1="34.2" y1="141.00" x2="39.2" y2="141.00" stroke="#000" stroke-width="0.8"/>
<text transform="translate(28.30,144.60) scale(1.025,1)" font-size="9.9" x="-11.23 -5.58">10</text>
<text transform="translate(28.20,141.70)" font-size="7.0">3</text>
<line x1="34.2" y1="193.80" x2="39.2" y2="193.80" stroke="#000" stroke-width="0.8"/>
<text transform="translate(28.30,197.40) scale(1.025,1)" font-size="9.9" x="-11.23 -5.58">10</text>
<text transform="translate(28.20,194.50)" font-size="7.0">1</text>
<line x1="34.2" y1="246.60" x2="39.2" y2="246.60" stroke="#000" stroke-width="0.8"/>
<rect x="23.7" y="243.90" width="5.0" height="0.75" fill="#000"/>
<text transform="translate(23.00,250.20) scale(1.025,1)" font-size="9.9" x="-11.23 -5.58">10</text>
<text transform="translate(28.80,247.30)" font-size="7.0">1</text>
<line x1="39.20" y1="274.1" x2="39.20" y2="279.1" stroke="#000" stroke-width="0.8"/>
<text transform="translate(39.20,288.00) scale(1.025,1)" font-size="9.9" x="-2.75">0</text>
<line x1="80.67" y1="274.1" x2="80.67" y2="279.1" stroke="#000" stroke-width="0.8"/>
<text transform="translate(80.67,288.00) scale(1.025,1)" font-size="9.9" x="-5.58 0.07">50</text>
<line x1="122.13" y1="274.1" x2="122.13" y2="279.1" stroke="#000" stroke-width="0.8"/>
<text transform="translate(122.13,288.00) scale(1.025,1)" font-size="9.9" x="-8.40 -2.75 2.90">100</text>
<line x1="163.60" y1="274.1" x2="163.60" y2="279.1" stroke="#000" stroke-width="0.8"/>
<text transform="translate(163.60,288.00) scale(1.025,1)" font-size="9.9" x="-8.40 -2.75 2.90">150</text>
<line x1="205.07" y1="274.1" x2="205.07" y2="279.1" stroke="#000" stroke-width="0.8"/>
<text transform="translate(205.07,288.00) scale(1.025,1)" font-size="9.9" x="-8.40 -2.75 2.90">200</text>
<line x1="246.53" y1="274.1" x2="246.53" y2="279.1" stroke="#000" stroke-width="0.8"/>
<text transform="translate(246.53,288.00) scale(1.025,1)" font-size="9.9" x="-8.40 -2.75 2.90">250</text>
<line x1="288.00" y1="274.1" x2="288.00" y2="279.1" stroke="#000" stroke-width="0.8"/>
<text transform="translate(288.00,288.00) scale(1.025,1)" font-size="9.9" x="-8.40 -2.75 2.90">300</text>
<rect x="197.5" y="4.3" width="86.1" height="40.0" rx="1.8" ry="1.8" fill="#fff" fill-opacity="0.8" stroke="#dcdcdc" stroke-width="0.7"/>
<line x1="200.7" y1="11.40" x2="217.4" y2="11.40" stroke="#000000" stroke-width="0.75" stroke-dasharray="2.0 1.4" stroke-dashoffset="-0.4"/>
<text transform="translate(224.65,15.10) scale(1.050,1)" font-size="9.2" x="-0.42 4.39 9.72 12.02 14.24 16.82 22.10 25.37 28.60 33.86">Full array</text>
<line x1="200.7" y1="24.15" x2="217.4" y2="24.15" stroke="#ff0000" stroke-width="0.75" stroke-dasharray="2.0 1.4" stroke-dashoffset="-0.4"/>
<text transform="translate(224.65,27.65) scale(1.050,1)" font-size="9.2" x="-0.43 5.35 10.61 15.77 18.79 24.07 27.34 30.56 35.82 40.44">Sub-arrays</text>
<line x1="200.7" y1="36.90" x2="217.4" y2="36.90" stroke="#00ffff" stroke-width="0.75" stroke-dasharray="2.0 1.4" stroke-dashoffset="-0.4"/>
<text transform="translate(224.65,40.20) scale(1.050,1)" font-size="9.2" x="-0.43 5.40 7.65 12.92 18.25 20.42 25.57 28.25 33.57 35.83 41.00 46.23 48.41">Single dipole</text>
<rect x="303.5" y="0.3" width="14.0" height="273.8" fill="url(#vir)" stroke="#000" stroke-width="0.8"/>
<line x1="317.5" y1="53.14" x2="322.3" y2="53.14" stroke="#000" stroke-width="0.8"/>
<text transform="translate(323.40,56.64) scale(1.025,1)" font-size="9.9" x="0.07 5.68 8.54">0.2</text>
<line x1="317.5" y1="108.38" x2="322.3" y2="108.38" stroke="#000" stroke-width="0.8"/>
<text transform="translate(323.40,111.88) scale(1.025,1)" font-size="9.9" x="0.07 5.68 8.54">0.4</text>
<line x1="317.5" y1="163.62" x2="322.3" y2="163.62" stroke="#000" stroke-width="0.8"/>
<text transform="translate(323.40,167.12) scale(1.025,1)" font-size="9.9" x="0.07 5.68 8.54">0.6</text>
<line x1="317.5" y1="218.86" x2="322.3" y2="218.86" stroke="#000" stroke-width="0.8"/>
<text transform="translate(323.40,222.36) scale(1.025,1)" font-size="9.9" x="0.07 5.68 8.54">0.8</text>
<line x1="317.5" y1="274.10" x2="322.3" y2="274.10" stroke="#000" stroke-width="0.8"/>
<text transform="translate(323.40,277.60) scale(1.025,1)" font-size="9.9" x="0.07 5.68 8.54">1.0</text>
<text transform="translate(348.10,177.25) rotate(-90) scale(1.050,1)" font-size="10.1" x="-0.18 6.43 12.14 18.11 27.02 29.57 35.46 41.29 44.41 47.68 51.31 57.00 62.49 65.89 68.34 74.13">Beaming fraction</text>
<text transform="translate(127.88,298.60) scale(1.050,1)" font-size="10.1" x="-0.20 7.01 9.18 14.38 17.47 23.04 28.62 33.54 39.12 42.01 45.09 53.18 58.76 63.81">Distance (Mpc)</text>
<text transform="translate(7.00,176.14) rotate(-90) scale(1.050,1)" font-size="9.4" x="-0.24 5.48 8.08 13.95 19.15 22.04 29.15 34.86 40.40 45.36 48.16 51.61 56.82 59.79 62.14 66.19 71.47">Flux Density (Jy)</text>
</g>
</svg>
</body></html>
